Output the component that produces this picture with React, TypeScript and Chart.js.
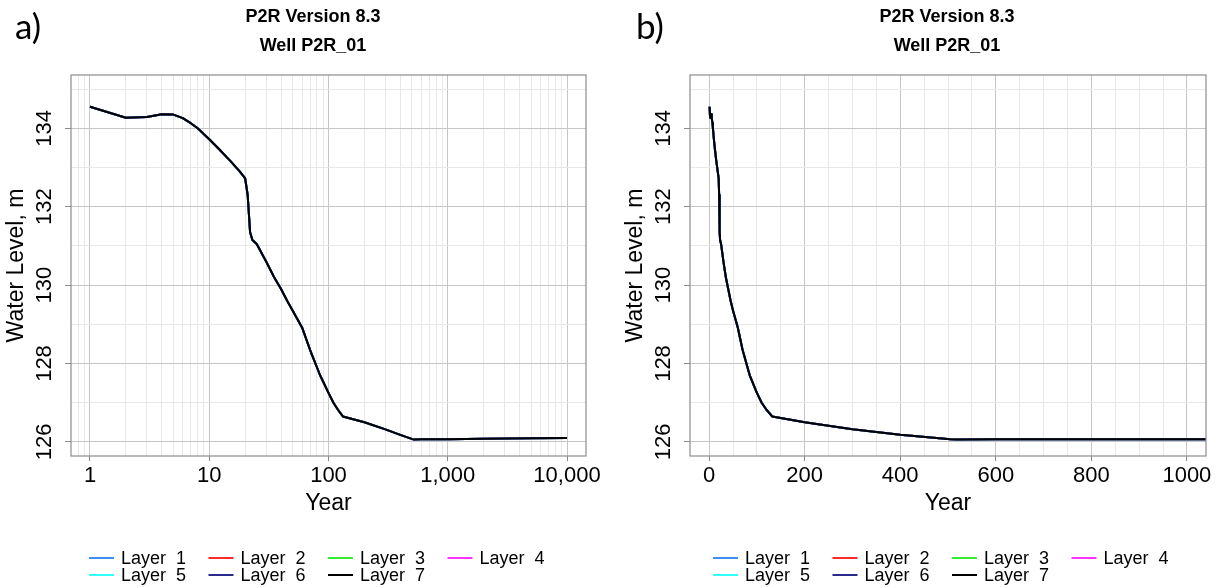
import React, { useEffect, useRef } from 'react';
import { Chart, registerables } from 'chart.js';

Chart.register(...registerables);

// ---- Data ----
const years = [1, 2, 3, 4, 5, 6, 7, 8, 10, 12, 15, 18, 20, 21, 22, 23, 25, 30, 35, 40, 45, 50, 60, 70, 85, 100, 110, 120, 132, 200, 300, 400, 505, 520, 600, 1000, 2000, 5000, 10000];
const waterLevel = [134.55, 134.27, 134.29, 134.36, 134.35, 134.26, 134.13, 134.0, 133.72, 133.48, 133.17, 132.9, 132.72, 132.3, 131.35, 131.15, 131.05, 130.6, 130.2, 129.9, 129.6, 129.35, 128.92, 128.35, 127.7, 127.25, 127.0, 126.82, 126.65, 126.5, 126.32, 126.18, 126.07, 126.06, 126.07, 126.07, 126.08, 126.09, 126.1];

const layerNames = ['Layer  1', 'Layer  2', 'Layer  3', 'Layer  4', 'Layer  5', 'Layer  6', 'Layer  7'];
const layerColors = ['#3b8ff5', '#ff2a2a', '#33ee33', '#ff33ff', '#33ffff', '#2a2a8c', '#000000'];

const titleLines = ['P2R Version 8.3', 'Well P2R_01'];
const xAxisTitle = 'Year';
const yAxisTitle = 'Water Level, m';

const yTickValues = [126, 128, 130, 132, 134];
const yMinorValues = [127, 129, 131, 133, 135];
const logTickValues = [1, 10, 100, 1000, 10000];
const logTickLabels = ['1', '10', '100', '1,000', '10,000'];
const linTickValues = [0, 200, 400, 600, 800, 1000];
const linTickLabels = ['0', '200', '400', '600', '800', '1000'];

const FONT = "'Liberation Sans', Arial, sans-serif";
const MAJOR_GRID = '#c6c6c6';
const MINOR_GRID = '#e8e8e8';
const BOX = '#8c8c8c';

function logGrid(): number[] {
  const out: number[] = [0.8, 0.9];
  for (let e = 0; e < 4; e++) {
    for (let m = 1; m <= 9; m++) out.push(m * Math.pow(10, e));
  }
  out.push(10000);
  return out;
}
function linGrid(): number[] {
  const out: number[] = [];
  for (let v = 0; v <= 1000; v += 50) out.push(v);
  return out;
}

const decorPlugin = {
  id: 'decor',
  afterDraw(chart: any, _args: any, opts: any) {
    const { ctx, chartArea } = chart;
    ctx.save();
    // plot box
    ctx.strokeStyle = BOX;
    ctx.lineWidth = 1.2;
    ctx.strokeRect(chartArea.left, chartArea.top, chartArea.right - chartArea.left, chartArea.bottom - chartArea.top);
    // panel letter
    ctx.fillStyle = '#000';
    ctx.font = "35px Lato, 'Open Sans', sans-serif";
    ctx.textAlign = 'left';
    ctx.textBaseline = 'alphabetic';
    ctx.fillText(opts.panel, opts.panelX, 39);
    // title
    ctx.font = `bold 18px ${FONT}`;
    ctx.textAlign = 'center';
    ctx.textBaseline = 'middle';
    ctx.fillText(titleLines[0], opts.titleX, 17.5);
    ctx.fillText(titleLines[1], opts.titleX, 46);
    // legend
    ctx.font = `18px ${FONT}`;
    ctx.textAlign = 'left';
    chart.data.datasets.forEach((ds: any, i: number) => {
      const col = i % 4;
      const row = Math.floor(i / 4);
      const x0 = opts.legendX + col * 119.5;
      const y = 558 + row * 17;
      ctx.strokeStyle = ds.borderColor;
      ctx.lineWidth = 2;
      ctx.beginPath();
      ctx.moveTo(x0, y);
      ctx.lineTo(x0 + 25, y);
      ctx.stroke();
      ctx.fillStyle = '#000';
      ctx.fillText(ds.label, x0 + 32, y + 1);
    });
    ctx.restore();
  },
};

function makeChart(canvas: HTMLCanvasElement, kind: 'log' | 'lin', padRight: number, decor: any) {
  const isLog = kind === 'log';
  const datasets = layerNames.map((name, i) => ({
    label: name,
    data: years.map((x, k) => ({ x, y: waterLevel[k] })),
    borderColor: layerColors[i],
    backgroundColor: layerColors[i],
    borderWidth: 2,
    pointRadius: 0,
    tension: 0,
    fill: false,
    borderJoinStyle: 'round' as const,
    order: layerNames.length - 1 - i,
  }));

  const xMajor = isLog ? logTickValues : linTickValues;
  const xLabels = isLog ? logTickLabels : linTickLabels;
  const isXMajor = (v: number) => xMajor.some((m) => Math.abs(m - v) < 1e-6);
  const isYMajor = (v: number) => yTickValues.some((m) => Math.abs(m - v) < 1e-6);

  return new Chart(canvas, {
    type: 'line',
    data: { datasets },
    plugins: [decorPlugin],
    options: {
      responsive: false,
      animation: false,
      events: [],
      layout: { padding: { left: 0, right: padRight, top: 75, bottom: 0 } },
      plugins: {
        legend: { display: false },
        title: { display: false },
        tooltip: { enabled: false },
        decor,
      } as any,
      scales: {
        x: {
          type: isLog ? 'logarithmic' : 'linear',
          min: isLog ? 0.693 : -40,
          max: isLog ? 14430 : 1040,
          afterBuildTicks: (s: any) => {
            s.ticks = (isLog ? logGrid() : linGrid()).map((v) => ({ value: v }));
          },
          afterFit: (s: any) => {
            s.height = 132;
          },
          ticks: {
            autoSkip: false,
            maxRotation: 0,
            minRotation: 0,
            padding: 2,
            color: '#000',
            font: { family: FONT, size: 22 },
            callback: (v: any) => {
              const idx = xMajor.findIndex((m) => Math.abs(m - Number(v)) < 1e-6);
              return idx >= 0 ? xLabels[idx] : '';
            },
          },
          grid: {
            color: (c: any) => (c.tick && isXMajor(c.tick.value) ? MAJOR_GRID : MINOR_GRID),
            tickColor: (c: any) => (c.tick && isXMajor(c.tick.value) ? BOX : 'rgba(0,0,0,0)'),
            tickLength: 5,
            lineWidth: 1,
          },
          border: { display: false },
          title: {
            display: true,
            text: xAxisTitle,
            color: '#000',
            font: { family: FONT, size: 23 },
            padding: { top: 0, bottom: 71 },
          },
        } as any,
        y: {
          type: 'linear',
          min: 125.64,
          max: 135.36,
          afterBuildTicks: (s: any) => {
            s.ticks = [...yTickValues, ...yMinorValues].sort((a, b) => a - b).map((v) => ({ value: v }));
          },
          afterFit: (s: any) => {
            s.width = 71;
          },
          ticks: {
            autoSkip: false,
            minRotation: 90,
            maxRotation: 90,
            crossAlign: 'center',
            padding: 2,
            color: '#000',
            font: { family: FONT, size: 22 },
            callback: (v: any) => (isYMajor(Number(v)) ? String(v) : ''),
          },
          grid: {
            color: (c: any) => (c.tick && isYMajor(c.tick.value) ? MAJOR_GRID : MINOR_GRID),
            tickColor: (c: any) => (c.tick && isYMajor(c.tick.value) ? BOX : 'rgba(0,0,0,0)'),
            tickLength: 6,
            lineWidth: 1,
          },
          border: { display: false },
          title: {
            display: true,
            text: yAxisTitle,
            color: '#000',
            font: { family: FONT, size: 23 },
            padding: { top: 3, bottom: 0 },
          },
        } as any,
      },
    },
  });
}

export default function App() {
  const leftRef = useRef<HTMLCanvasElement>(null);
  const rightRef = useRef<HTMLCanvasElement>(null);

  useEffect(() => {
    const a = makeChart(leftRef.current!, 'log', 26, { panel: 'a)', panelX: 15, titleX: 313, legendX: 89 });
    const b = makeChart(rightRef.current!, 'lin', 19, { panel: 'b)', panelX: 17, titleX: 328, legendX: 94 });
    return () => {
      a.destroy();
      b.destroy();
    };
  }, []);

  return (
    <div style={{ position: 'absolute', left: 0, top: 0, width: 1225, height: 588, background: '#fff', overflow: 'hidden' }}>
      <canvas ref={leftRef} width={612} height={588} style={{ position: 'absolute', left: 0, top: 0 }} />
      <canvas ref={rightRef} width={606} height={588} style={{ position: 'absolute', left: 619, top: 0 }} />
    </div>
  );
}
